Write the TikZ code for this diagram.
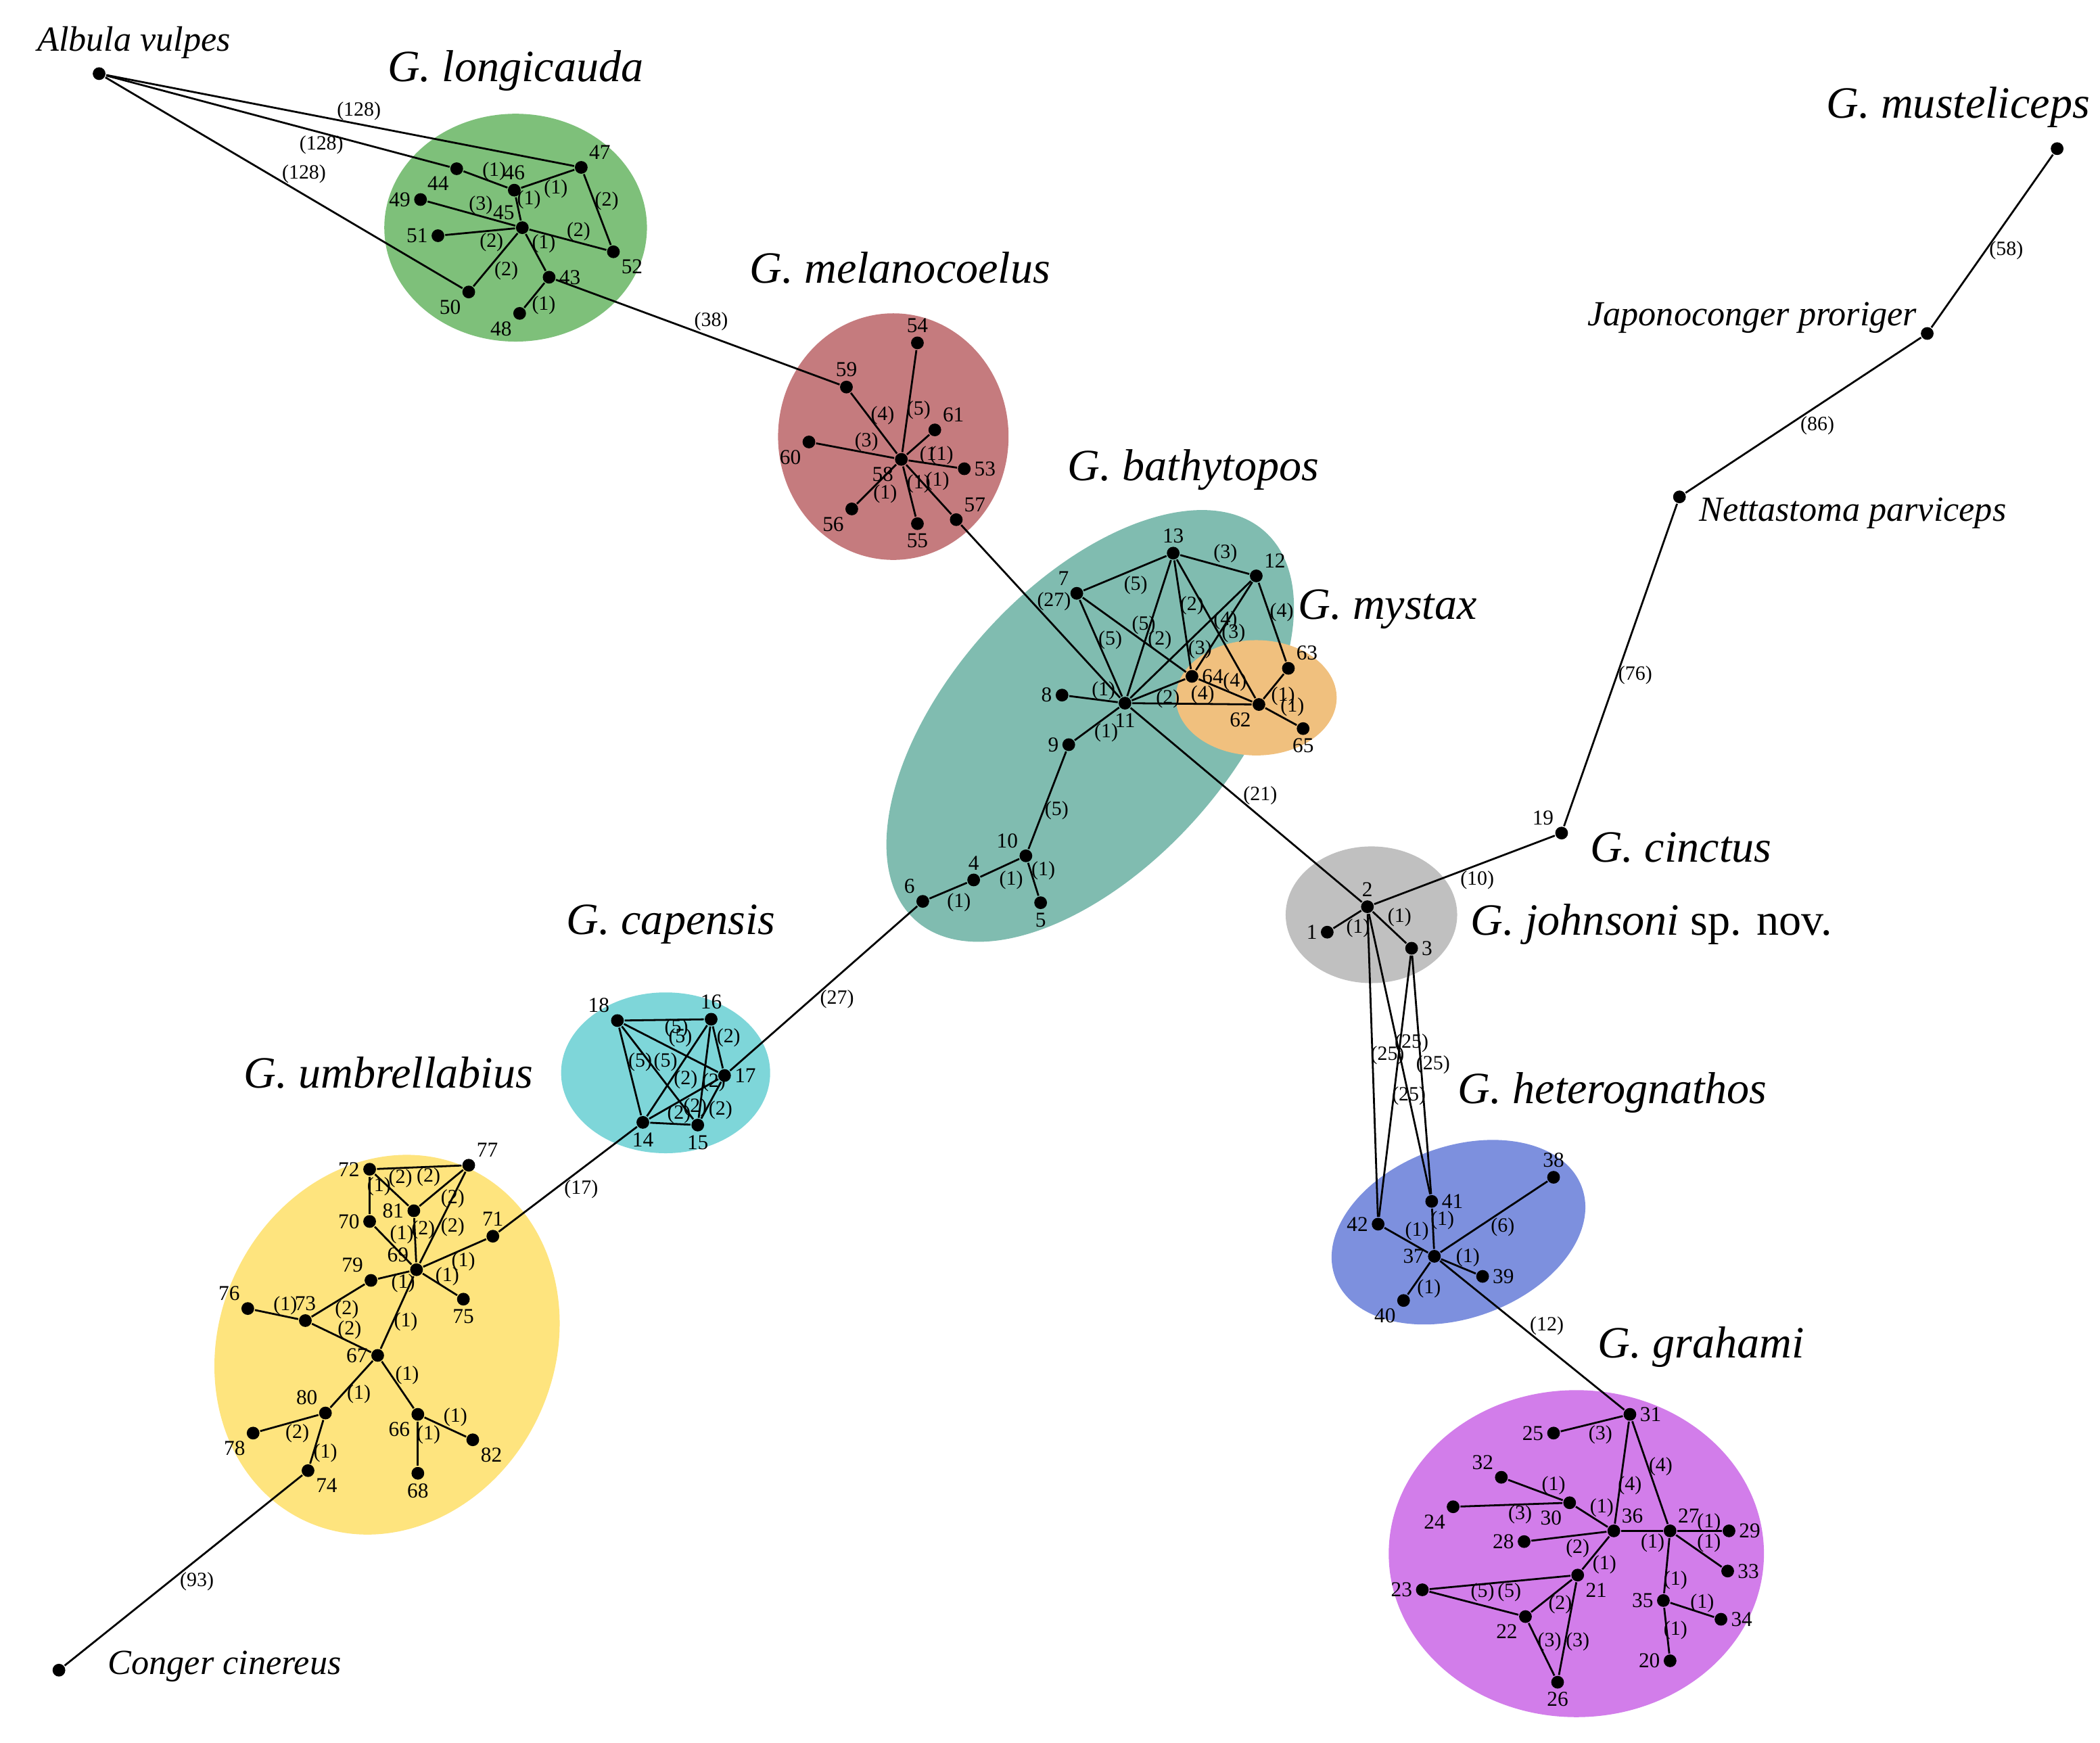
\documentclass[tikz,border=0pt]{standalone}
\usepackage{fontspec}
\setmainfont{Liberation Serif}
\begin{document}
\begin{tikzpicture}[x=0.01cm,y=-0.01cm,
  dot/.style={circle,fill=black,inner sep=0pt,minimum size=0.95mm},
  nl/.style={font=\fontsize{4.5}{5}\selectfont,inner sep=0.4pt,label distance=0pt},
  el/.style={font=\fontsize{4.3}{5}\selectfont,inner sep=0pt},
  sp/.style={font=\fontsize{9.5}{11}\selectfont\itshape,inner sep=0pt},
  tx/.style={font=\fontsize{7.5}{9}\selectfont\itshape,inner sep=0pt},
  ln/.style={line width=0.4pt}]
\useasboundingbox (0,0) rectangle (1568,1301);
\newcommand{\pt}[3]{\node[dot,label={[nl]#3:#1}] (n#1) at (#2) {};}
\newcommand{\ed}[2]{\draw[ln] (n#1) -- (n#2);}
\newcommand{\el}[2]{\node[el] at (#1) {#2};}
% clusters
\fill[fill={rgb,255:red,126;green,192;blue,122}] (385,170) ellipse [x radius=0.98cm, y radius=0.85cm];
\fill[fill={rgb,255:red,197;green,123;blue,126}] (667,326) ellipse [x radius=0.86cm, y radius=0.92cm];
\fill[fill={rgb,255:red,128;green,188;blue,176},rotate around={48:(814,542)}] (814,542) ellipse [x radius=1.95cm, y radius=1.05cm];
\fill[fill={rgb,255:red,240;green,192;blue,126}] (938,521) ellipse [x radius=0.60cm, y radius=0.43cm];
\fill[fill={rgb,255:red,126;green,214;blue,217}] (497,801) ellipse [x radius=0.78cm, y radius=0.60cm];
\fill[fill={rgb,255:red,254;green,228;blue,126},rotate around={65:(289,1004)}] (289,1004) ellipse [x radius=1.45cm, y radius=1.25cm];
\fill[fill={rgb,255:red,192;green,192;blue,192}] (1024,683) ellipse [x radius=0.64cm, y radius=0.51cm];
\fill[fill={rgb,255:red,125;green,144;blue,222},rotate around={20:(1089,920)}] (1089,920) ellipse [x radius=0.98cm, y radius=0.64cm];
\fill[fill={rgb,255:red,210;green,125;blue,234}] (1177,1160) ellipse [x radius=1.40cm, y radius=1.22cm];
% outgroups
\node[dot] (nA) at (74,55) {};
\node[tx] (tA) at (100,32) {Albula vulpes};
\node[dot] (nC) at (44,1247) {};
\node[tx,anchor=west] (tC) at (80,1244) {Conger cinereus};
\node[dot] (nM) at (1536,111) {};
\node[dot] (nJ) at (1439,249) {};
\node[tx,anchor=east] (tJ) at (1432,237) {Japonoconger proriger};
\node[dot] (nN) at (1254,371) {};
\node[tx,anchor=west] (tN) at (1268,383) {Nettastoma parviceps};
\pt{19}{1166,622}{above left}
% green
\pt{47}{434,125}{above right}\pt{44}{341,126}{below left}\pt{46}{384,142}{above}
\pt{49}{314,149}{left}\pt{45}{390,170}{above left}\pt{51}{327,176}{left}
\pt{52}{458,188}{below right}\pt{43}{410,207}{right}\pt{50}{350,218}{below left}\pt{48}{388,234}{below left}
% red
\pt{54}{685,256}{above}\pt{59}{632,289}{above}\pt{61}{698,321}{above right}
\pt{60}{604,330}{below left}\pt{58}{673,343}{below left}\pt{53}{720,350}{right}
\pt{56}{636,380}{below left}\pt{55}{685,391}{below}\pt{57}{714,388}{above right}
% teal / orange
\pt{13}{876,413}{above}\pt{12}{938,430}{above right}\pt{7}{804,443}{above left}
\pt{64}{890,505}{right}\pt{63}{962,499}{above right}\pt{8}{793,519}{left}
\pt{11}{840,525}{below}\pt{62}{940,526}{below left}\pt{65}{973,544}{below}
\pt{9}{798,556}{left}\pt{10}{766,639}{above left}\pt{4}{727,657}{above}
\pt{6}{689,673}{above left}\pt{5}{777,674}{below}
% cyan
\pt{18}{461,762}{above left}\pt{16}{531,761}{above}\pt{17}{541,803}{right}
\pt{14}{480,838}{below}\pt{15}{521,840}{below}
% yellow
\pt{72}{276,873}{left}\pt{77}{350,870}{above right}\pt{81}{309,904}{left}
\pt{70}{276,912}{left}\pt{71}{368,923}{above}\pt{69}{311,948}{above left}
\pt{79}{277,956}{above left}\pt{76}{185,977}{above left}\pt{73}{228,986}{above}
\pt{75}{346,970}{below}\pt{67}{282,1012}{left}\pt{80}{243,1055}{above left}
\pt{66}{312,1056}{below left}\pt{78}{189,1070}{below left}\pt{82}{353,1075}{below right}
\pt{74}{230,1098}{below right}\pt{68}{312,1100}{below}
% grey / blue
\pt{2}{1021,677}{above}\pt{1}{991,696}{left}\pt{3}{1054,708}{right}
\pt{38}{1160,879}{above}\pt{41}{1069,897}{right}\pt{42}{1029,914}{left}
\pt{37}{1071,938}{left}\pt{39}{1107,953}{right}\pt{40}{1048,971}{below left}
% purple
\pt{31}{1217,1056}{right}\pt{25}{1160,1070}{left}\pt{32}{1121,1103}{above left}
\pt{30}{1172,1122}{below left}\pt{24}{1085,1125}{below left}\pt{36}{1205,1143}{above right}
\pt{27}{1247,1143}{above right}\pt{29}{1291,1143}{right}\pt{28}{1138,1151}{left}
\pt{33}{1290,1173}{right}\pt{21}{1178,1176}{below right}\pt{23}{1062,1187}{left}
\pt{35}{1242,1195}{left}\pt{22}{1139,1207}{below left}\pt{34}{1285,1209}{right}
\pt{20}{1247,1240}{left}\pt{26}{1163,1256}{below}
% edges
\ed{A}{47}\ed{A}{44}\ed{A}{50}
\ed{44}{46}\ed{46}{47}\ed{46}{45}\ed{47}{52}\ed{49}{45}\ed{45}{52}\ed{51}{45}\ed{45}{50}\ed{45}{43}\ed{43}{48}
\ed{43}{59}
\ed{58}{54}\ed{58}{59}\ed{58}{61}\ed{58}{60}\ed{58}{53}\ed{58}{56}\ed{58}{55}\ed{58}{57}
\ed{57}{11}
\ed{13}{7}\ed{13}{12}\ed{7}{11}\ed{7}{64}\ed{13}{11}\ed{13}{64}\ed{13}{62}\ed{12}{11}\ed{12}{64}\ed{12}{63}
\ed{11}{8}\ed{11}{64}\ed{11}{62}\ed{64}{62}\ed{62}{63}\ed{62}{65}\ed{11}{9}
\ed{9}{10}\ed{10}{4}\ed{4}{6}\ed{10}{5}
\ed{6}{17}\ed{11}{2}
\ed{18}{16}\ed{18}{14}\ed{18}{17}\ed{18}{15}\ed{16}{14}\ed{16}{15}\ed{16}{17}\ed{14}{17}\ed{14}{15}\ed{15}{17}
\ed{14}{71}
\ed{72}{77}\ed{72}{70}\ed{72}{81}\ed{81}{77}\ed{77}{69}\ed{81}{69}\ed{70}{69}\ed{69}{71}\ed{69}{75}\ed{69}{79}\ed{69}{67}
\ed{79}{73}\ed{76}{73}\ed{73}{67}\ed{67}{80}\ed{67}{66}\ed{80}{78}\ed{80}{74}\ed{66}{82}\ed{66}{68}
\ed{74}{C}
\ed{2}{1}\ed{2}{3}\ed{2}{42}\ed{2}{41}\ed{3}{42}\ed{3}{41}\ed{2}{19}
\ed{19}{N}\ed{N}{J}\ed{J}{M}
\ed{42}{37}\ed{41}{37}\ed{37}{38}\ed{37}{39}\ed{37}{40}\ed{37}{31}
\ed{31}{25}\ed{31}{36}\ed{31}{27}\ed{32}{30}\ed{24}{30}\ed{30}{36}\ed{28}{36}\ed{36}{27}\ed{36}{21}
\ed{27}{29}\ed{27}{33}\ed{27}{35}\ed{35}{34}\ed{35}{20}\ed{21}{23}\ed{23}{22}\ed{21}{22}\ed{21}{26}\ed{22}{26}
% edge labels
\el{268,83}{(128)}\el{240,108}{(128)}\el{227,130}{(128)}
\el{369,128}{(1)}\el{415,141}{(1)}\el{395,149}{(1)}\el{453,150}{(2)}\el{359,153}{(3)}\el{432,173}{(2)}
\el{367,181}{(2)}\el{406,182}{(1)}\el{378,202}{(2)}\el{406,228}{(1)}\el{531,240}{(38)}
\el{659,310}{(4)}\el{686,306}{(5)}\el{647,330}{(3)}\el{693,340}{(1}\el{703,340}{(1)}
\el{686,361}{(1)}\el{700,359}{(1)}\el{661,369}{(1)}
\el{787,449}{(27)}\el{848,437}{(5)}\el{915,413}{(3)}\el{829,478}{(5)}\el{854,467}{(5)}\el{866,478}{(2)}
\el{890,452}{(2)}\el{915,463}{(4)}\el{921,473}{(3)}\el{896,485}{(3)}\el{957,457}{(4)}\el{922,509}{(4)}
\el{898,519}{(4)}\el{872,522}{(2)}\el{824,516}{(1)}\el{958,520}{(1)}\el{965,528}{(1)}\el{826,547}{(1)}
\el{789,605}{(5)}\el{755,657}{(1)}\el{779,650}{(1)}\el{716,674}{(1)}\el{625,746}{(27)}\el{941,594}{(21)}
\el{505,768}{(5)}\el{508,775}{(5)}\el{478,793}{(5)}\el{497,793}{(5)}\el{544,775}{(2)}\el{512,806}{(2)}
\el{533,808}{(2)}\el{507,832}{(2)}\el{519,827}{(2)}\el{538,829}{(2)}\el{434,888}{(17)}
\el{283,886}{(1)}\el{299,880}{(2)}\el{320,879}{(2)}\el{338,895}{(2)}\el{316,918}{(2)}\el{338,916}{(2)}
\el{300,922}{(1)}\el{346,942}{(1)}\el{334,953}{(1)}\el{301,958}{(1)}\el{303,987}{(1)}\el{259,978}{(2)}
\el{261,993}{(2)}\el{213,975}{(1)}\el{304,1027}{(1)}\el{268,1041}{(1)}\el{222,1070}{(2)}\el{243,1085}{(1)}
\el{340,1058}{(1)}\el{320,1071}{(1)}\el{147,1181}{(93)}
\el{1014,693}{(1)}\el{1045,685}{(1)}\el{1103,657}{(10)}
\el{1036,788}{(25)}\el{1054,779}{(25)}\el{1070,795}{(25)}\el{1052,818}{(25)}
\el{1058,919}{(1)}\el{1077,911}{(1)}\el{1122,916}{(6)}\el{1096,939}{(1)}\el{1067,962}{(1)}\el{1155,990}{(12)}
\el{1221,504}{(76)}\el{1357,318}{(86)}\el{1498,187}{(58)}
\el{1195,1071}{(3)}\el{1217,1109}{(4)}\el{1240,1095}{(4)}\el{1160,1109}{(1)}\el{1135,1131}{(3)}\el{1196,1126}{(1)}
\el{1178,1156}{(2)}\el{1234,1152}{(1)}\el{1198,1168}{(1)}\el{1276,1137}{(1)}\el{1276,1152}{(1)}\el{1251,1180}{(1)}
\el{1271,1197}{(1)}\el{1251,1217}{(1)}\el{1107,1189}{(5)}\el{1127,1189}{(5)}\el{1165,1198}{(2)}\el{1157,1226}{(3)}\el{1178,1226}{(3)}
% species labels
\node[sp] (s1) at (385,53) {G. longicauda};
\node[sp] (s2) at (672,200) {G. melanocoelus};
\node[sp] (s3) at (891,351) {G. bathytopos};
\node[sp] (s4) at (1036,455) {G. mystax};
\node[sp] (s5) at (1255,633) {G. cinctus};
\node[sp] (s6) at (1233,690) {G. johnsoni \upshape sp. nov.};
\node[sp] (s7) at (1204,816) {G. heterognathos};
\node[sp] (s8) at (1270,1006) {G. grahami};
\node[sp] (s9) at (290,801) {G. umbrellabius};
\node[sp] (s10) at (501,690) {G. capensis};
\node[sp] (s11) at (1462,80) {G. musteliceps};
\end{tikzpicture}
\end{document}
